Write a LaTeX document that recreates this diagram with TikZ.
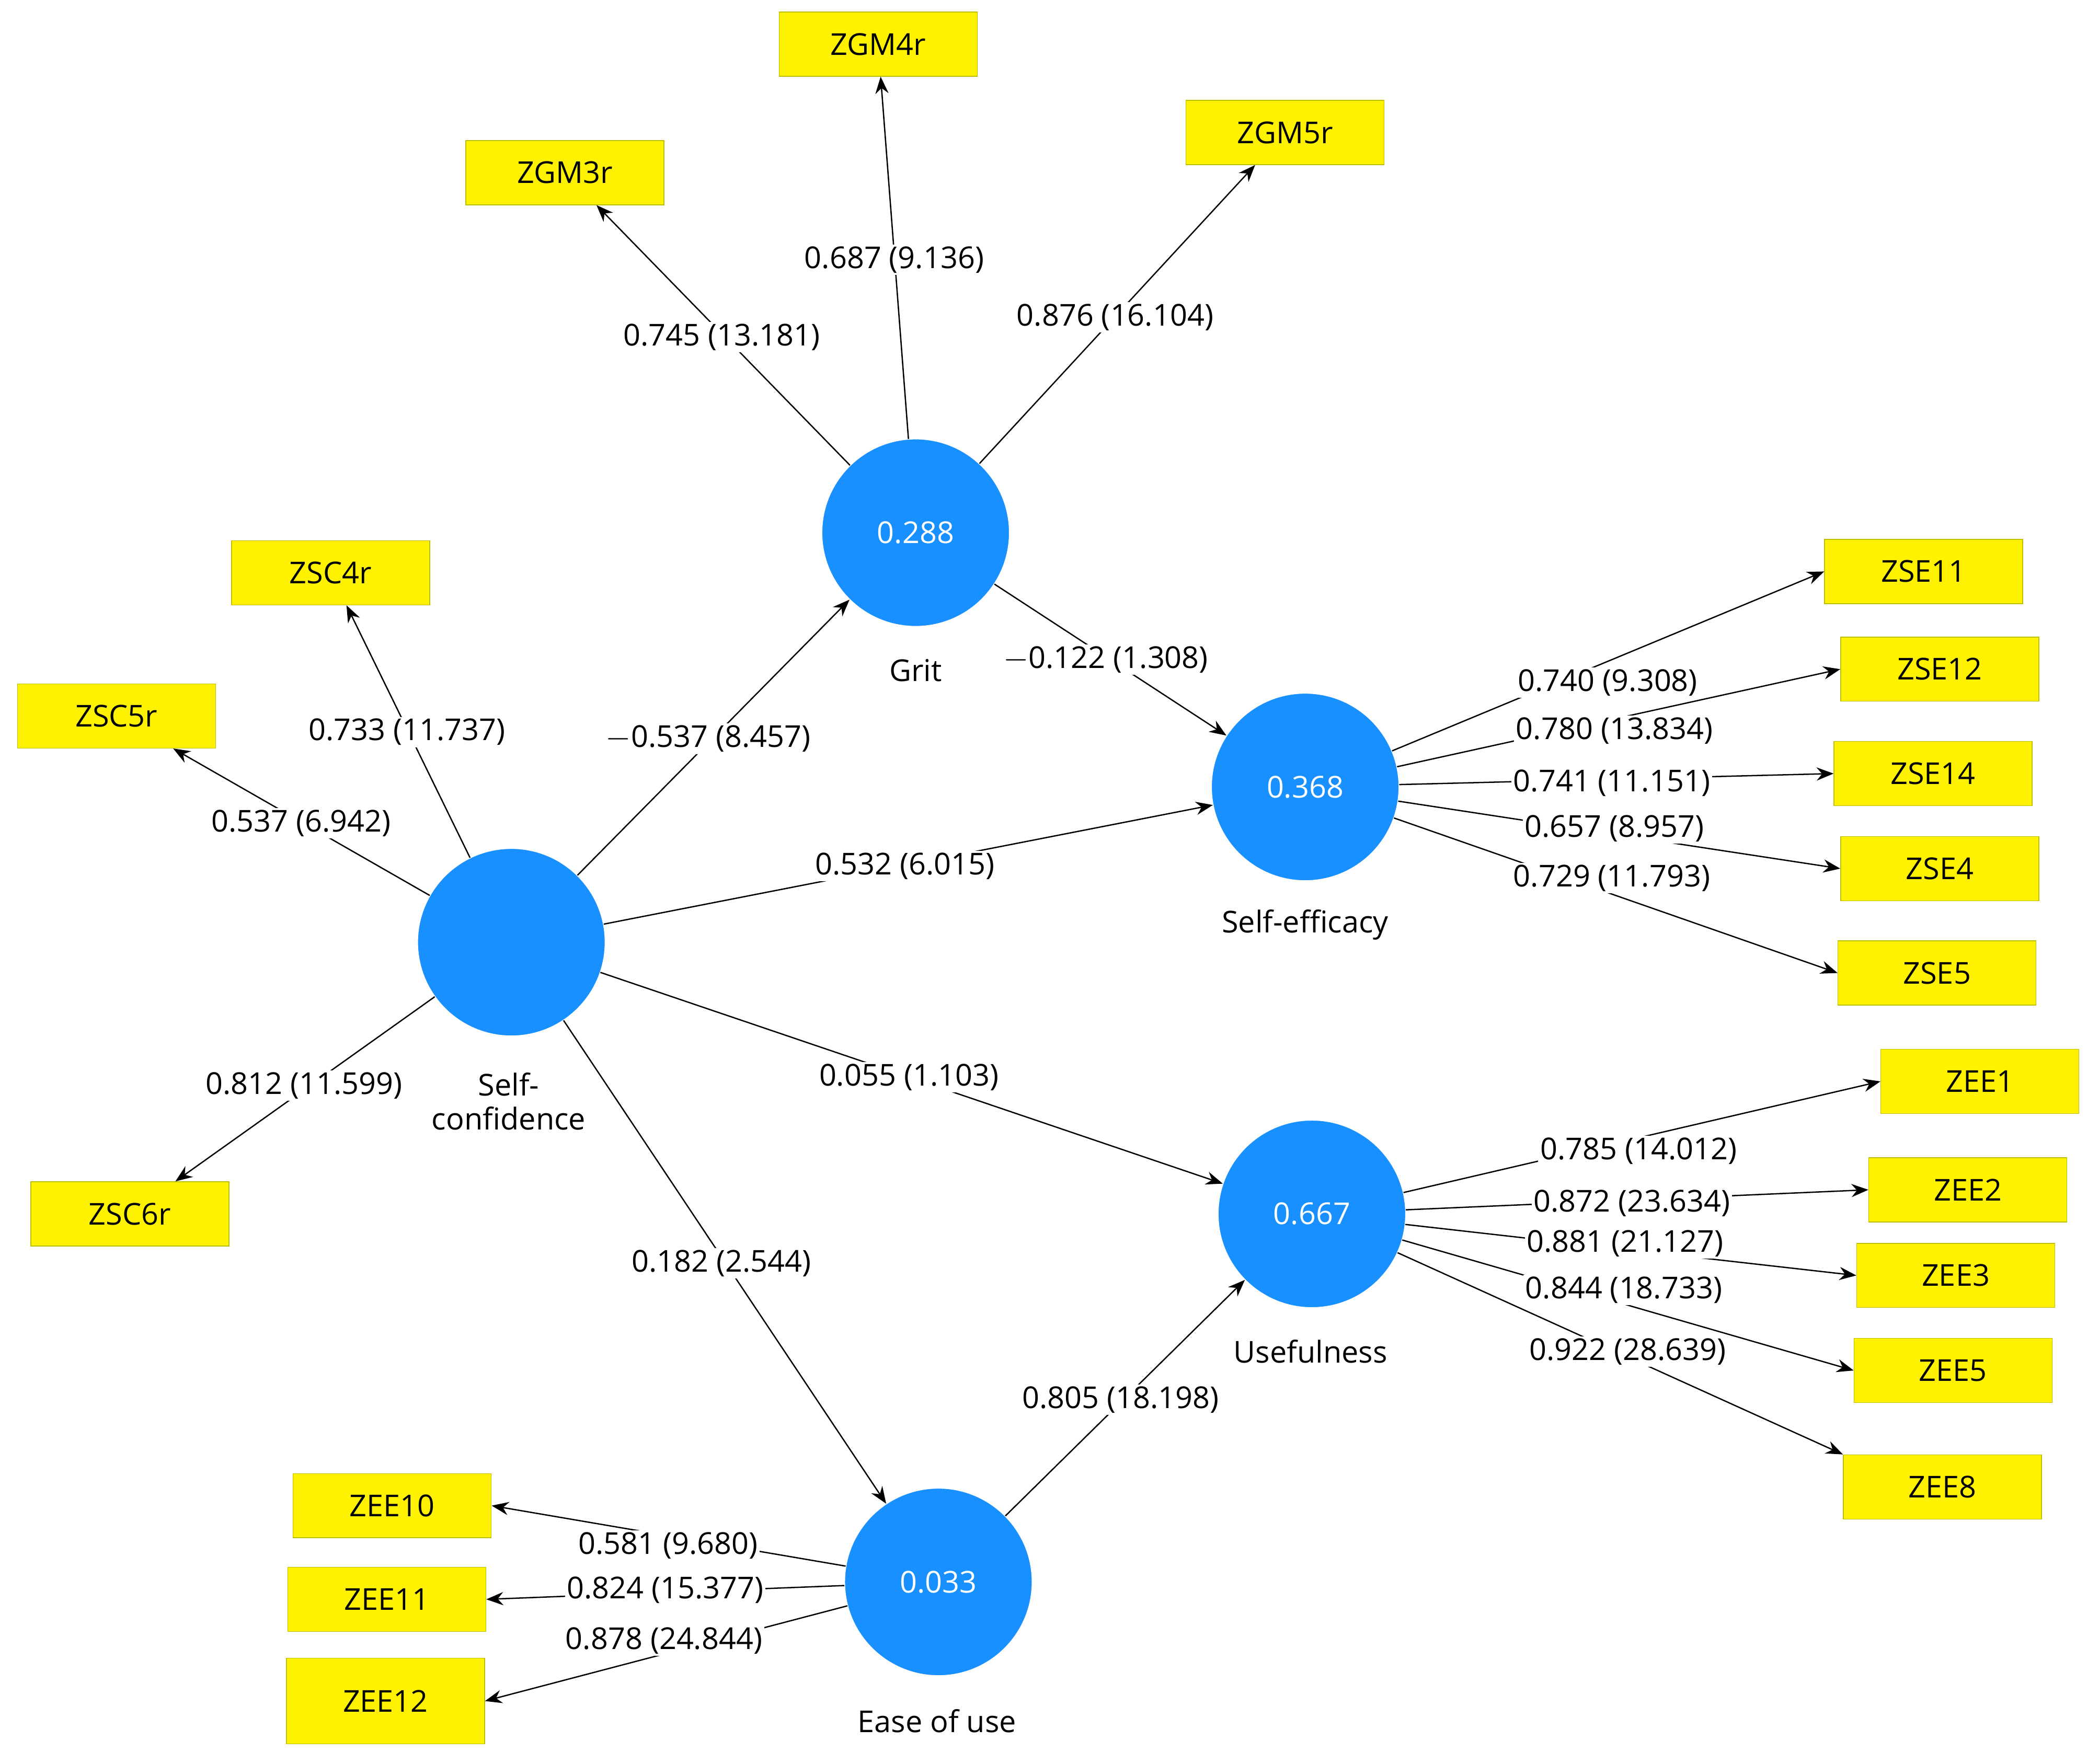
\documentclass[tikz,border=0pt]{standalone}
\usepackage{fontspec}
\setmainfont{Open Sans}
\usetikzlibrary{arrows.meta}
\begin{document}
\begin{tikzpicture}[x=0.025cm,y=-0.025cm,
 lv/.style={circle,fill={rgb,255:red,24;green,144;blue,255},draw=white,minimum size=140*0.025cm,text=white,font=\fontsize{16}{18}\selectfont,inner sep=0},
 mv/.style={rectangle,fill=yellow,draw={rgb,255:red,190;green,190;blue,0},minimum width=148*0.025cm,minimum height=48*0.025cm,font=\fontsize{16}{18}\selectfont,inner sep=0},
 lab/.style={fill=white,inner sep=1pt,font=\fontsize{16}{18}\selectfont},
 nm/.style={font=\fontsize{16}{18}\selectfont,align=center},
 ar/.style={-{Stealth[length=9pt,width=7pt]},line width=0.7pt}]
\useasboundingbox (0,0) rectangle (1568,1318);
\node[lv] (grit) at (684,398) {0.288};
\node[lv] (se) at (975,588) {0.368};
\node[lv] (sc) at (382,704) {};
\node[lv] (us) at (980,907) {0.667};
\node[lv] (eu) at (701,1182) {0.033};
\node[nm] at (684,501) {Grit};
\node[nm] at (975,691) {Self-efficacy};
\node[nm] at (380,823) {Self-\\confidence};
\node[nm] at (979,1010) {Usefulness};
\node[nm] at (700,1286) {Ease of use};
\foreach \n/\x/\y/\t in {gm4/656/33/ZGM4r,gm3/422/129/ZGM3r,gm5/960/99/ZGM5r,sc4/247/428/ZSC4r,sc5/87/535/ZSC5r,sc6/97/907/ZSC6r,
 se11/1437/427/ZSE11,se12/1449/500/ZSE12,se14/1444/578/ZSE14,se4/1449/649/ZSE4,se5/1447/727/ZSE5,
 ee1/1479/808/ZEE1,ee2/1470/889/ZEE2,ee3/1461/953/ZEE3,ee5/1459/1024/ZEE5,ee8/1451/1111/ZEE8,
 ee10/293/1125/ZEE10,ee11/289/1195/ZEE11}
 \node[mv] (\n) at (\x,\y) {\t};
\node[mv,minimum height=64*0.025cm] (ee12) at (288,1271) {ZEE12};
% edges
\draw[ar] (grit) -- (gm3); \draw[ar] (grit) -- (gm4); \draw[ar] (grit) -- (gm5);
\draw[ar] (sc) -- (sc4); \draw[ar] (sc) -- (sc5); \draw[ar] (sc) -- (sc6);
\draw[ar] (se) -- (se11.west); \draw[ar] (se) -- (se12.west); \draw[ar] (se) -- (se14.west); \draw[ar] (se) -- (se4.west); \draw[ar] (se) -- (se5.west);
\draw[ar] (us) -- (ee1.west); \draw[ar] (us) -- (ee2.west); \draw[ar] (us) -- (ee3.west); \draw[ar] (us) -- (ee5.west); \draw[ar] (us) -- (ee8.north west);
\draw[ar] (eu) -- (ee10.east); \draw[ar] (eu) -- (ee11.east); \draw[ar] (eu) -- (ee12.east);
\draw[ar] (sc) -- (grit); \draw[ar] (sc) -- (se); \draw[ar] (sc) -- (us); \draw[ar] (sc) -- (eu);
\draw[ar] (grit) -- (se); \draw[ar] (eu) -- (us);
% labels
\foreach \x/\y/\t in {539/252/0.745 (13.181),668/194/0.687 (9.136),833/237/0.876 (16.104),
 304/547/0.733 (11.737),225/615/0.537 (6.942),227/811/0.812 (11.599),529/552/{$-$0.537 (8.457)},
 826/493/{$-$0.122 (1.308)},676/647/0.532 (6.015),679/805/0.055 (1.103),539/944/0.182 (2.544),837/1046/0.805 (18.198),
 1201/510/0.740 (9.308),1206/546/0.780 (13.834),1204/585/0.741 (11.151),1206/619/0.657 (8.957),1204/656/0.729 (11.793),
 1224/860/0.785 (14.012),1219/899/0.872 (23.634),1214/929/0.881 (21.127),1213/964/0.844 (18.733),1216/1010/0.922 (28.639),
 499/1155/0.581 (9.680),497/1188/0.824 (15.377),496/1226/0.878 (24.844)}
 \node[lab] at (\x,\y) {\t};
\end{tikzpicture}
\end{document}
